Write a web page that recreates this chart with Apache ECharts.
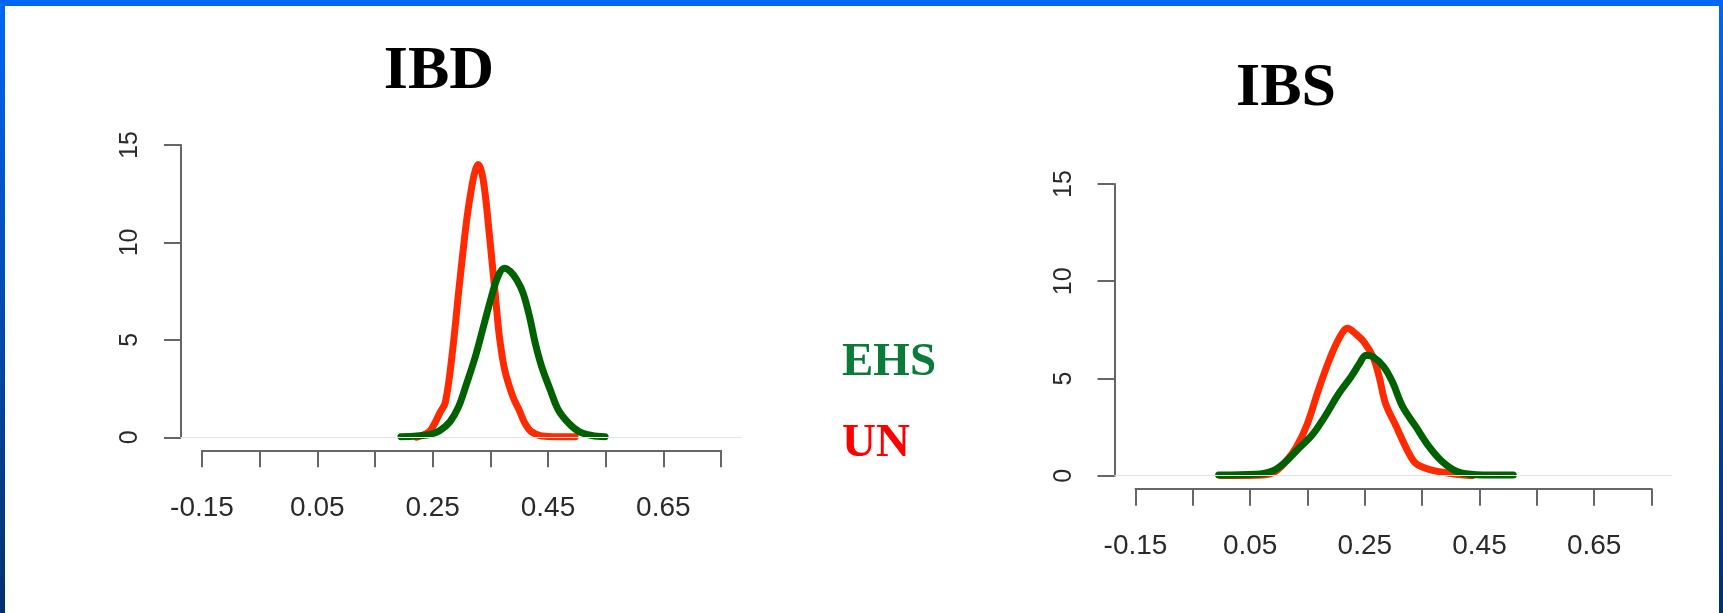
<!DOCTYPE html>
<html>
<head>
<meta charset="utf-8">
<script src="https://cdn.jsdelivr.net/npm/echarts@6/dist/echarts.min.js"></script>
<style>
html, body { margin: 0; padding: 0; width: 1723px; height: 613px; overflow: hidden; }
body { background: linear-gradient(to bottom, #0066f5, #00306e); position: relative; }
.panel { position: absolute; left: 5px; top: 6px; width: 1714px; height: 607px; background: #ffffff; }
#chart { position: absolute; left: 0; top: 0; width: 1723px; height: 613px; }
</style>
</head>
<body>
<div class="panel"></div>
<div id="chart"></div>
<script>
// IBD panel: density curves (x = value, y = density)
var ibdUnX  = [0.222, 0.244, 0.255, 0.262, 0.272, 0.284, 0.296, 0.309, 0.318, 0.324, 0.329, 0.335, 0.341, 0.347, 0.353, 0.360, 0.366, 0.375, 0.389, 0.400, 0.410, 0.421, 0.439, 0.468, 0.497];
var ibdUnY  = [0.00, 0.29, 0.80, 1.23, 1.80, 4.31, 7.73, 11.15, 12.90, 13.70, 14.00, 13.60, 12.50, 10.80, 9.00, 6.87, 5.10, 3.45, 2.09, 1.40, 0.72, 0.29, 0.07, 0.03, 0.03];
var ibdEhsX = [0.195, 0.222, 0.244, 0.262, 0.280, 0.295, 0.309, 0.324, 0.338, 0.352, 0.363, 0.374, 0.385, 0.396, 0.407, 0.418, 0.428, 0.439, 0.454, 0.468, 0.486, 0.504, 0.526, 0.549];
var ibdEhsY = [0.03, 0.07, 0.14, 0.34, 0.80, 1.57, 2.77, 4.14, 5.68, 7.22, 8.24, 8.67, 8.50, 8.07, 7.39, 6.19, 4.82, 3.63, 2.43, 1.40, 0.72, 0.29, 0.09, 0.03];

// IBS panel
var ibsUnX  = [-0.001, 0.059, 0.090, 0.112, 0.131, 0.150, 0.169, 0.188, 0.205, 0.220, 0.233, 0.248, 0.264, 0.275, 0.286, 0.305, 0.324, 0.339, 0.362, 0.392, 0.422, 0.437];
var ibsUnY  = [0.00, 0.02, 0.15, 0.72, 1.49, 2.69, 4.40, 5.95, 7.06, 7.58, 7.32, 6.89, 6.12, 5.09, 3.72, 2.52, 1.32, 0.63, 0.33, 0.15, 0.03, 0.00];
var ibsEhsX = [-0.005, 0.059, 0.090, 0.112, 0.135, 0.158, 0.180, 0.203, 0.226, 0.241, 0.252, 0.264, 0.283, 0.298, 0.316, 0.339, 0.362, 0.385, 0.411, 0.445, 0.509];
var ibsEhsY = [0.03, 0.07, 0.26, 0.72, 1.41, 2.09, 3.03, 4.15, 5.09, 5.78, 6.20, 6.12, 5.60, 4.83, 3.55, 2.52, 1.49, 0.72, 0.21, 0.05, 0.03];

var xTickLabels = ['-0.15', '0.05', '0.25', '0.45', '0.65'];
var titles = ['IBD', 'IBS'];
var groupNames = ['EHS', 'UN'];

var RED = '#ff2a00';
var GREEN = '#006100';
var AXIS = '#666666';

function pairs(xs, ys) {
    return xs.map(function (x, i) { return [x, ys[i]]; });
}

function xAxisA(grid) {
    return {
        gridIndex: grid, type: 'value', min: -0.15, max: 0.75, interval: 0.1, offset: 13,
        axisLine: { show: true, onZero: false, lineStyle: { color: AXIS, width: 2 } },
        axisTick: { show: true, length: 17, lineStyle: { color: AXIS, width: 2 } },
        axisLabel: {
            margin: 44, fontSize: 28, color: '#2a2a2a', fontFamily: 'Liberation Sans, Arial, sans-serif',
            showMinLabel: true, showMaxLabel: true, hideOverlap: false,
            formatter: function (v) {
                var s = (Math.round(v * 100) / 100).toFixed(2);
                return xTickLabels.indexOf(s) >= 0 ? s : '';
            }
        },
        splitLine: { show: false }
    };
}
function yAxisA(grid) {
    return {
        gridIndex: grid, type: 'value', min: 0, max: 15, interval: 5, offset: 21,
        axisLine: { show: true, onZero: false, lineStyle: { color: AXIS, width: 2 } },
        axisTick: { show: true, length: 17, lineStyle: { color: AXIS, width: 2 } },
        axisLabel: {
            rotate: 90, margin: 38, fontSize: 25, color: '#2a2a2a',
            fontFamily: "'Liberation Sans', Arial, sans-serif"
        },
        splitLine: { show: false }
    };
}
// plot-region axes (hidden) used only for the zero line
function hiddenX(grid, min, max) {
    return { gridIndex: grid, type: 'value', min: min, max: max, show: false, splitLine: { show: false } };
}
function hiddenY(grid) {
    return { gridIndex: grid, type: 'value', min: 0, max: 15, show: false, splitLine: { show: false } };
}

function curve(grid, xs, ys, color) {
    return {
        type: 'line', xAxisIndex: grid, yAxisIndex: grid, data: pairs(xs, ys),
        showSymbol: false, symbol: 'none', smooth: 0.35, silent: true,
        lineStyle: { color: color, width: 7, cap: 'round', join: 'round' }
    };
}
function zeroLine(grid) {
    return {
        type: 'line', xAxisIndex: grid, yAxisIndex: grid, data: [], silent: true,
        markLine: {
            silent: true, symbol: 'none', label: { show: false },
            lineStyle: { color: '#e4e4e4', width: 1, type: 'solid' },
            data: [{ yAxis: 0 }]
        }
    };
}

function titleText(x, y, text, size, color, align) {
    return {
        type: 'text', x: x, y: y, silent: true,
        style: {
            text: text, fill: color, font: 'bold ' + size + 'px "Liberation Serif", "Times New Roman", serif',
            align: align, verticalAlign: 'middle', textAlign: align, textVerticalAlign: 'middle'
        }
    };
}

var chart = echarts.init(document.getElementById('chart'), null, { renderer: 'canvas' });

var option = {
    animation: false,
    backgroundColor: 'transparent',
    grid: [
        { left: 202, top: 145, width: 519, height: 292.3, outerBoundsMode: 'none', containLabel: false },
        { left: 180.5, top: 145, width: 561, height: 292.3, outerBoundsMode: 'none', containLabel: false },
        { left: 1135.5, top: 184, width: 516, height: 291.7, outerBoundsMode: 'none', containLabel: false },
        { left: 1114.6, top: 184, width: 557, height: 291.7, outerBoundsMode: 'none', containLabel: false }
    ],
    xAxis: [xAxisA(0), hiddenX(1, -0.1865, 0.7895), xAxisA(2), hiddenX(3, -0.1863, 0.7880)],
    yAxis: [yAxisA(0), hiddenY(1), yAxisA(2), hiddenY(3)],
    series: [
        zeroLine(1),
        curve(0, ibdUnX, ibdUnY, RED),
        curve(0, ibdEhsX, ibdEhsY, GREEN),
        zeroLine(3),
        curve(2, ibsUnX, ibsUnY, RED),
        curve(2, ibsEhsX, ibsEhsY, GREEN)
    ],
    graphic: [
        titleText(439, 72, titles[0], 62, '#000000', 'center'),
        titleText(1286, 88.5, titles[1], 62, '#000000', 'center'),
        titleText(842, 363, groupNames[0], 47, '#0b7b3c', 'left'),
        titleText(842, 443.5, groupNames[1], 47, '#ff0000', 'left')
    ]
};
chart.setOption(option);
</script>
</body>
</html>
